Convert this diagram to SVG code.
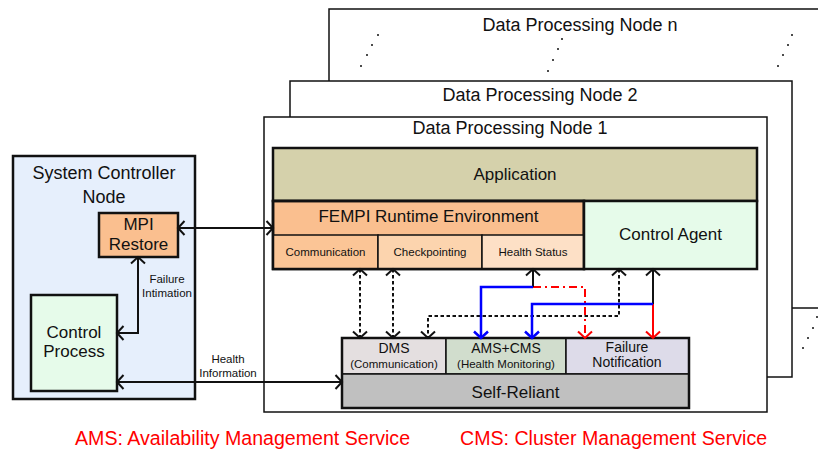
<svg xmlns="http://www.w3.org/2000/svg" width="818" height="452" viewBox="0 0 818 452">
  <style>
    text { font-family: "Liberation Sans", Arial, sans-serif; fill: #111; }
    .frame { fill: #fff; stroke: #111; stroke-width: 1.5; }
    .box { stroke: #111; stroke-width: 2.5; }
    .cell { stroke: #111; stroke-width: 1.5; }
    .t18 { font-size: 18px; text-anchor: middle; }
    .t17 { font-size: 17px; text-anchor: middle; }
    .t14 { font-size: 14px; text-anchor: middle; }
    .t11 { font-size: 11.5px; text-anchor: middle; }
    .legend { font-size: 19.6px; fill: #ff0000; }
    .dot { fill: #111; }
    .ln { fill: none; stroke: #111; stroke-width: 2; }
    .dash { fill: none; stroke: #111; stroke-width: 2; stroke-dasharray: 3.5 2.5; }
    .blue { fill: none; stroke: #0000ff; stroke-width: 2.5; }
    .red { fill: none; stroke: #ff0000; stroke-width: 2; }
    .reddd { fill: none; stroke: #ff0000; stroke-width: 2; stroke-dasharray: 8 4 2 4; }
  </style>
  <defs>
    <marker id="ah" viewBox="-9 -9 18 18" markerWidth="18" markerHeight="18" markerUnits="userSpaceOnUse" orient="auto-start-reverse" refX="0" refY="0">
      <path d="M-6.5,-7 L0,0 L-6.5,7" fill="none" stroke="#111" stroke-width="2"/>
    </marker>
    <marker id="ahBlue" viewBox="-9 -9 18 18" markerWidth="18" markerHeight="18" markerUnits="userSpaceOnUse" orient="auto" refX="0" refY="0">
      <path d="M-6.5,-7 L0,0 L-6.5,7" fill="none" stroke="#0000ff" stroke-width="2.5"/>
    </marker>
    <marker id="ahRed" viewBox="-9 -9 18 18" markerWidth="18" markerHeight="18" markerUnits="userSpaceOnUse" orient="auto" refX="0" refY="0">
      <path d="M-6.5,-7 L0,0 L-6.5,7" fill="none" stroke="#ff0000" stroke-width="2"/>
    </marker>
  </defs>

  <!-- stacked data processing nodes (back to front) -->
  <g id="node-n">
    <rect class="frame" x="329" y="9" width="500" height="299"/>
    <text class="t18" x="580" y="31">Data Processing Node n</text>
    <circle class="dot" cx="378" cy="35" r="1"/><circle class="dot" cx="372" cy="45" r="1"/>
    <circle class="dot" cx="367" cy="55" r="1"/><circle class="dot" cx="361" cy="66" r="1"/>
    <circle class="dot" cx="562" cy="39" r="1"/><circle class="dot" cx="558" cy="49" r="1"/>
    <circle class="dot" cx="553" cy="60" r="1"/><circle class="dot" cx="548" cy="71" r="1"/>
    <circle class="dot" cx="792" cy="35" r="1"/><circle class="dot" cx="788" cy="45" r="1"/>
    <circle class="dot" cx="783" cy="55" r="1"/><circle class="dot" cx="778" cy="66" r="1"/>
    <circle class="dot" cx="817" cy="317" r="1"/><circle class="dot" cx="813" cy="328" r="1"/>
    <circle class="dot" cx="808" cy="338" r="1"/><circle class="dot" cx="803" cy="348" r="1"/>
  </g>
  <g id="node-2">
    <rect class="frame" x="290" y="81" width="502" height="296"/>
    <text class="t18" x="540" y="101">Data Processing Node 2</text>
  </g>
  <g id="node-1">
    <rect class="frame" x="264" y="117" width="503" height="295"/>
    <text class="t18" x="510" y="134">Data Processing Node 1</text>
  </g>

  <!-- system controller -->
  <g id="system-controller">
    <rect class="box" x="13" y="156" width="182" height="243" fill="#e6effc"/>
    <text class="t18" x="104" y="179">System Controller</text>
    <text class="t18" x="104" y="203">Node</text>
  </g>
  <g id="mpi-restore">
    <rect class="box" x="99" y="213" width="79" height="44" fill="#fabf8f"/>
    <text class="t17" x="138.5" y="230">MPI</text>
    <text class="t17" x="138.5" y="250">Restore</text>
  </g>
  <g id="control-process">
    <rect class="box" x="31" y="295" width="86" height="96" fill="#e6fbea"/>
    <text class="t17" x="74" y="338">Control</text>
    <text class="t17" x="74" y="357">Process</text>
  </g>

  <!-- node 1 internals -->
  <g id="application">
    <rect class="box" x="273" y="148" width="484" height="53" fill="#d5d1ab"/>
    <text class="t17" x="515" y="180">Application</text>
  </g>
  <g id="fempi">
    <rect class="box" x="273" y="201" width="311" height="68" fill="#fabf8f"/>
    <text class="t17" x="428.5" y="222">FEMPI Runtime Environment</text>
    <rect class="cell" x="273" y="235" width="105" height="34" fill="#fbc596"/>
    <rect class="cell" x="378" y="235" width="104" height="34" fill="#fcd4ae"/>
    <rect class="cell" x="482" y="235" width="102" height="34" fill="#fde0c6"/>
    <rect x="273" y="201" width="311" height="68" fill="none" stroke="#111" stroke-width="2.5"/>
    <text class="t11" x="325.5" y="256">Communication</text>
    <text class="t11" x="430" y="256">Checkpointing</text>
    <text class="t11" x="533" y="256">Health Status</text>
  </g>
  <g id="control-agent">
    <rect class="box" x="584" y="201" width="173" height="68" fill="#e6fbea"/>
    <text class="t17" x="670.5" y="240">Control Agent</text>
  </g>
  <g id="self-reliant">
    <rect class="cell" x="342" y="338" width="104" height="36" fill="#e4dfe0"/>
    <rect class="cell" x="446" y="338" width="120" height="36" fill="#d1ddcd"/>
    <rect class="cell" x="566" y="338" width="123" height="36" fill="#dddbe9"/>
    <rect class="cell" x="342" y="374" width="347" height="34" fill="#c0c0c0"/>
    <rect x="342" y="338" width="347" height="70" fill="none" stroke="#111" stroke-width="2.5"/>
    <text class="t14" x="394" y="353">DMS</text>
    <text class="t11" x="394" y="368">(Communication)</text>
    <text class="t14" x="506" y="353">AMS+CMS</text>
    <text class="t11" x="506" y="368">(Health Monitoring)</text>
    <text class="t14" x="627" y="352">Failure</text>
    <text class="t14" x="627" y="367">Notification</text>
    <text class="t17" x="515.5" y="398">Self-Reliant</text>
  </g>

  <!-- connectors -->
  <g id="connectors">
    <path class="ln" d="M178,228 H273" marker-start="url(#ah)" marker-end="url(#ah)"/>
    <path class="ln" d="M138,257 V333 H117" marker-start="url(#ah)" marker-end="url(#ah)"/>
    <path class="ln" d="M117,382 H342" marker-start="url(#ah)" marker-end="url(#ah)"/>
    <text class="t11" x="167" y="283">Failure</text>
    <text class="t11" x="167" y="297">Intimation</text>
    <text class="t11" x="228" y="363">Health</text>
    <text class="t11" x="228" y="377">Information</text>

    <path class="dash" d="M360,269 V338" marker-start="url(#ah)" marker-end="url(#ah)"/>
    <path class="dash" d="M393,269 V338" marker-start="url(#ah)" marker-end="url(#ah)"/>
    <path class="dash" d="M619,269 V316 H428 V338" marker-start="url(#ah)" marker-end="url(#ah)"/>

    <path class="reddd" d="M533,287 H585 V338" marker-end="url(#ahRed)"/>
    <path class="red" d="M653,304 V338" marker-end="url(#ahRed)"/>
    <path class="ln" d="M533,287 V269" marker-end="url(#ah)"/>
    <path class="ln" d="M653,304 V269" marker-end="url(#ah)"/>
    <path class="blue" d="M533,287 H481 V338" marker-end="url(#ahBlue)"/>
    <path class="blue" d="M653,304 H532 V338" marker-end="url(#ahBlue)"/>
  </g>

  <!-- legend -->
  <g id="legend">
    <text class="legend" x="75" y="445">AMS: Availability Management Service</text>
    <text class="legend" x="460" y="445">CMS: Cluster Management Service</text>
  </g>
</svg>
